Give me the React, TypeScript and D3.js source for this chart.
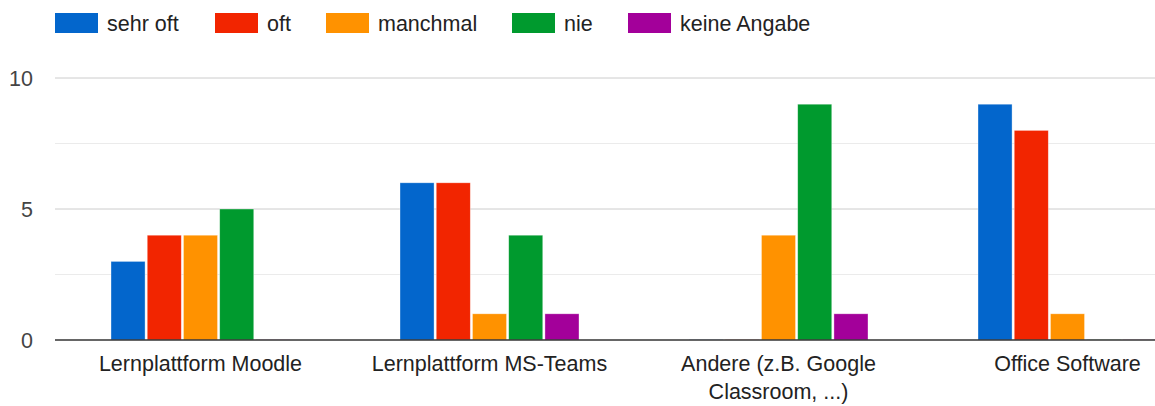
import React, { useEffect, useRef } from "react";
import * as d3 from "d3";

const categories = [
  "Lernplattform Moodle",
  "Lernplattform MS-Teams",
  "Andere (z.B. Google Classroom, ...)",
  "Office Software",
];
const seriesNames = ["sehr oft", "oft", "manchmal", "nie", "keine Angabe"];
const seriesColors = ["#0366cc", "#f22500", "#ff9200", "#009a2e", "#a3009a"];

const sehrOft = [3, 6, 0, 9];
const oft = [4, 6, 0, 8];
const manchmal = [4, 1, 4, 1];
const nie = [5, 4, 9, 0];
const keineAngabe = [0, 1, 1, 0];
const seriesValues = [sehrOft, oft, manchmal, nie, keineAngabe];

const yTicks = [0, 5, 10];
const yMinorTicks = [2.5, 7.5];

const W = 1155;
const H = 406;

const App = () => {
  const ref = useRef<SVGSVGElement>(null);

  useEffect(() => {
    const svg = d3.select(ref.current);
    svg.selectAll("*").remove();

    const font = "'Liberation Sans', Arial, sans-serif";
    const fs = 21.5;
    const left = 55;
    const groupStep = 289;

    const x0 = d3
      .scaleBand<string>()
      .domain(categories)
      .range([left + 1, left + 1 + groupStep * categories.length]);
    const x1 = d3
      .scaleBand<string>()
      .domain(seriesNames)
      .range([55, 234])
      .paddingInner(0.06);
    const y = d3.scaleLinear().domain([0, 10]).range([340, 78]);

    // gridlines
    const grid = svg.append("g");
    grid
      .selectAll("line.minor")
      .data(yMinorTicks)
      .join("line")
      .attr("x1", left)
      .attr("x2", W)
      .attr("y1", (d) => y(d))
      .attr("y2", (d) => y(d))
      .attr("stroke", "#ebebeb")
      .attr("stroke-width", 1);
    grid
      .selectAll("line.major")
      .data(yTicks.filter((d) => d !== 0))
      .join("line")
      .attr("x1", left)
      .attr("x2", W)
      .attr("y1", (d) => y(d))
      .attr("y2", (d) => y(d))
      .attr("stroke", "#cccccc")
      .attr("stroke-width", 1);

    // y labels
    svg
      .append("g")
      .selectAll("text")
      .data(yTicks)
      .join("text")
      .attr("x", 33)
      .attr("y", (d) => y(d))
      .attr("dy", "0.38em")
      .attr("text-anchor", "end")
      .attr("font-family", font)
      .attr("font-size", fs)
      .attr("fill", "#444")
      .text((d) => d);

    // bars
    const groups = svg
      .append("g")
      .selectAll("g")
      .data(categories)
      .join("g")
      .attr("transform", (d) => `translate(${x0(d)},0)`);

    groups
      .selectAll("rect")
      .data((_, i) =>
        seriesNames.map((s, k) => ({ s, k, v: seriesValues[k][i] }))
      )
      .join("rect")
      .attr("x", (d) => x1(d.s)!)
      .attr("width", x1.bandwidth())
      .attr("y", (d) => (d.v === 0 ? y(0) - 1 : y(d.v)))
      .attr("height", (d) => (d.v === 0 ? 1 : y(0) - y(d.v)))
      .attr("fill", (d) => seriesColors[d.k])
      .attr("opacity", (d) => (d.v === 0 ? 0.15 : 1))
      .attr("stroke", "#fff")
      .attr("stroke-opacity", 0.5)
      .attr("stroke-width", (d) => (d.v === 0 ? 0 : 0.7));

    // baseline
    svg
      .append("line")
      .attr("x1", left)
      .attr("x2", W)
      .attr("y1", y(0))
      .attr("y2", y(0))
      .attr("stroke", "#333")
      .attr("stroke-width", 1.3);

    // category labels
    const labels = svg
      .append("g")
      .selectAll("text")
      .data(categories)
      .join("text")
      .attr("x", (d) => x0(d)! + 55 + 89.5)
      .attr("y", 371)
      .attr("text-anchor", "middle")
      .attr("font-family", font)
      .attr("font-size", fs)
      .attr("fill", "#222");

    labels.each(function (d) {
      const t = d3.select(this);
      const words = d.split(" ");
      let line: string[] = [];
      let tspan = t.append("tspan").attr("x", t.attr("x")).attr("dy", 0);
      for (const w of words) {
        line.push(w);
        tspan.text(line.join(" "));
        if ((tspan.node() as SVGTSpanElement).getComputedTextLength() > 255 && line.length > 1) {
          line.pop();
          tspan.text(line.join(" "));
          line = [w];
          tspan = t
            .append("tspan")
            .attr("x", t.attr("x"))
            .attr("dy", 28)
            .text(w);
        }
      }
    });

    // legend
    const legendX = [55, 215, 326, 512, 628];
    const legend = svg
      .append("g")
      .selectAll("g")
      .data(seriesNames)
      .join("g")
      .attr("transform", (_, i) => `translate(${legendX[i]},13)`);
    legend
      .append("rect")
      .attr("width", 43)
      .attr("height", 20)
      .attr("fill", (_, i) => seriesColors[i]);
    legend
      .append("text")
      .attr("x", 52)
      .attr("y", 10)
      .attr("dy", "0.36em")
      .attr("font-family", font)
      .attr("font-size", fs)
      .attr("fill", "#222")
      .text((d) => d);
  }, []);

  return (
    <svg
      ref={ref}
      width={W}
      height={H}
      style={{ position: "absolute", left: 0, top: 0, background: "#fff" }}
    />
  );
};

export default App;
